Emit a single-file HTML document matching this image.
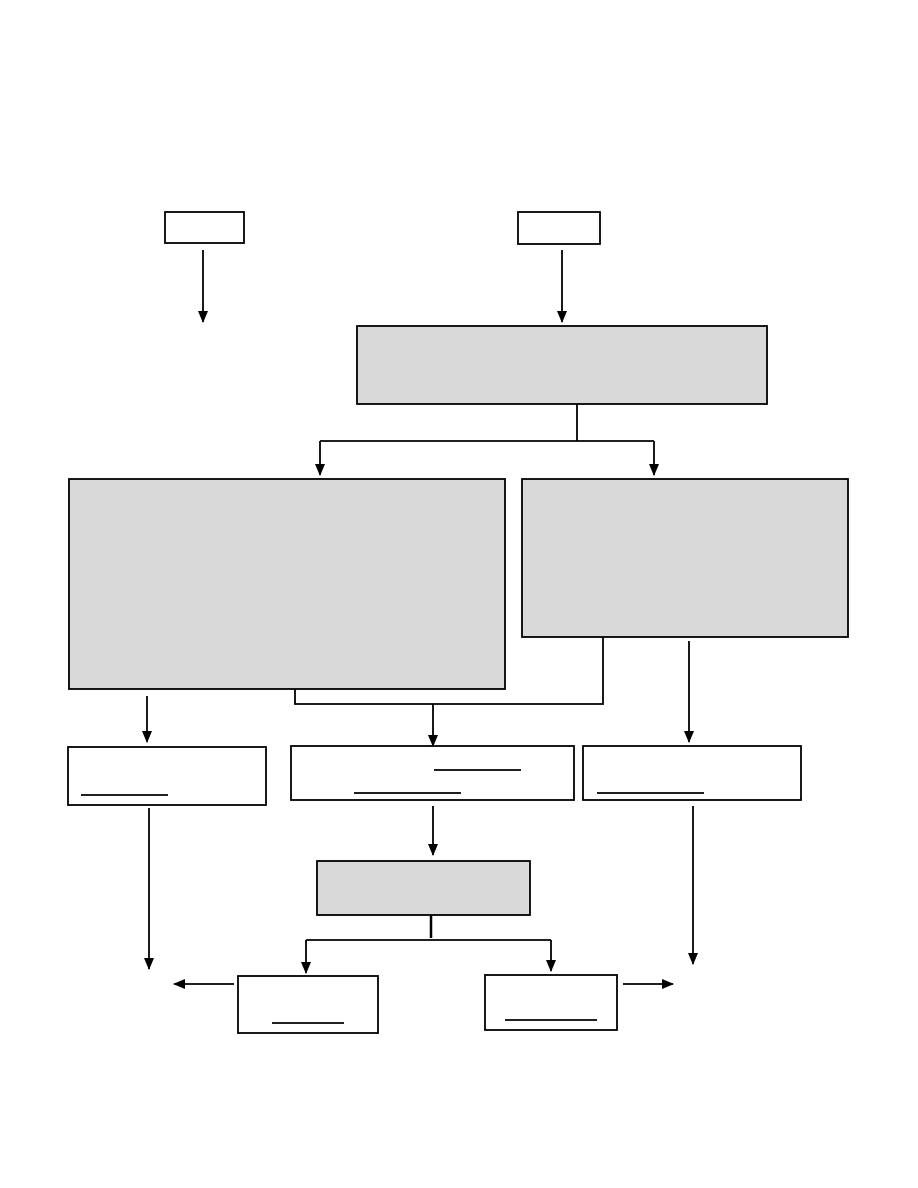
<!DOCTYPE html>
<html><head><meta charset="utf-8"><style>
html,body{margin:0;padding:0;background:#fff;}
svg{display:block;}
</style></head><body>
<svg width="918" height="1188" viewBox="0 0 918 1188" xmlns="http://www.w3.org/2000/svg">
<defs>
<marker id="a" markerWidth="12" markerHeight="12" refX="11" refY="6" orient="auto" markerUnits="userSpaceOnUse">
<path d="M0,1 L12,6 L0,11 Z" fill="#000"/>
</marker>
</defs>
<g stroke="#000" stroke-width="1.8" fill="#fff">
<rect x="165" y="212" width="79" height="31"/>
<rect x="518" y="212" width="82" height="32"/>
<rect x="357" y="326" width="410" height="78" fill="#d9d9d9"/>
<rect x="69" y="479" width="436" height="210" fill="#d9d9d9"/>
<rect x="522" y="479" width="326" height="158" fill="#d9d9d9"/>
<rect x="68" y="747" width="198" height="58"/>
<rect x="291" y="746" width="283" height="54"/>
<rect x="583" y="746" width="218" height="54"/>
<rect x="317" y="861" width="213" height="54" fill="#d9d9d9"/>
<rect x="238" y="976" width="140" height="57"/>
<rect x="485" y="975" width="132" height="55"/>
</g>
<g stroke="#000" stroke-width="1.8" fill="none">
<line x1="81" y1="795" x2="168" y2="795"/>
<line x1="434" y1="770" x2="521" y2="770"/>
<line x1="354" y1="793" x2="461" y2="793"/>
<line x1="597" y1="793" x2="704" y2="793"/>
<line x1="272" y1="1023" x2="344" y2="1023"/>
<line x1="505" y1="1020" x2="597" y2="1020"/>

<line x1="203" y1="250" x2="203" y2="322" marker-end="url(#a)"/>
<line x1="562" y1="250" x2="562" y2="322" marker-end="url(#a)"/>
<polyline points="577,404 577,441"/>
<line x1="320" y1="441" x2="654" y2="441"/>
<line x1="320" y1="441" x2="320" y2="475" marker-end="url(#a)"/>
<line x1="654" y1="441" x2="654" y2="475" marker-end="url(#a)"/>
<line x1="147" y1="696" x2="147" y2="742" marker-end="url(#a)"/>
<polyline points="295,689 295,704 603,704 603,637"/>
<line x1="433" y1="704" x2="433" y2="746" marker-end="url(#a)"/>
<line x1="689" y1="641" x2="689" y2="742" marker-end="url(#a)"/>
<line x1="149" y1="808" x2="149" y2="969" marker-end="url(#a)"/>
<line x1="433" y1="806" x2="433" y2="855" marker-end="url(#a)"/>
<line x1="693" y1="806" x2="693" y2="964" marker-end="url(#a)"/>
<line x1="431" y1="915" x2="431" y2="938" stroke-width="2.5"/>
<line x1="306" y1="940" x2="551" y2="940"/>
<line x1="306" y1="940" x2="306" y2="973" marker-end="url(#a)"/>
<line x1="551" y1="940" x2="551" y2="971" marker-end="url(#a)"/>
<line x1="234" y1="984" x2="174" y2="984" marker-end="url(#a)"/>
<line x1="623" y1="984" x2="673" y2="984" marker-end="url(#a)"/>
</g>
</svg>
</body></html>
